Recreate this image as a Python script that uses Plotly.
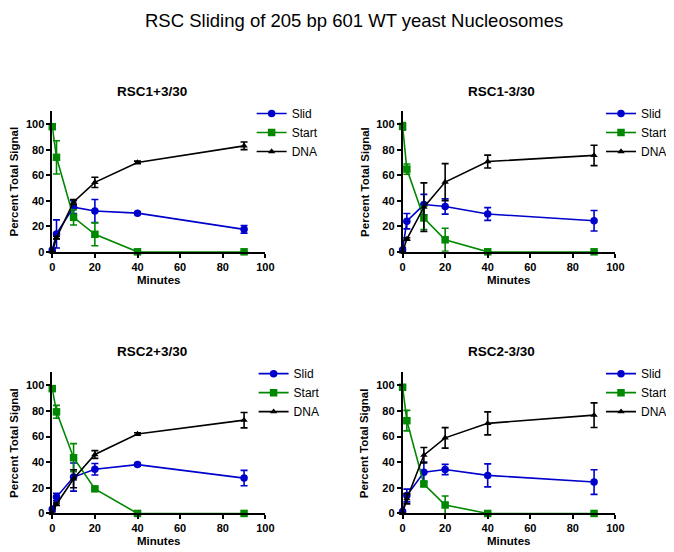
import plotly.graph_objects as go

# ---------------- data ----------------
minutes = [0, 2, 10, 20, 40, 90]
series_names = ["Slid", "Start", "DNA"]
panel_titles = ["RSC1+3/30", "RSC1-3/30", "RSC2+3/30", "RSC2-3/30"]
main_title = "RSC Sliding of 205 bp 601 WT yeast Nucleosomes"
x_ticks = [0, 20, 40, 60, 80, 100]
y_ticks = [0, 20, 40, 60, 80, 100]

# RSC1+3/30
p1_slid = [1.5, 14, 35, 32, 30.3, 17.6]
p1_slid_err = [1, 11, 5, 9, 1, 3]
p1_start = [98, 74, 27, 13.7, 0, 0]
p1_start_err = [2, 13, 6, 9, 0, 0]
p1_dna = [0, 11, 39, 54.4, 70, 83]
p1_dna_err = [0, 1, 2, 4, 1, 3]

# RSC1-3/30
p2_slid = [1.5, 24, 37, 35.5, 29.6, 24.3]
p2_slid_err = [2, 6, 8, 6, 5, 8]
p2_start = [98.2, 64.8, 26.5, 9.4, 0, 0]
p2_start_err = [3, 4, 9, 9, 0, 0]
p2_dna = [0, 10, 35, 54.6, 70.7, 75.5]
p2_dna_err = [0, 1, 19, 14.5, 5, 8]

# RSC2+3/30
p3_slid = [3.3, 12.8, 28.4, 34.5, 38.1, 27.6]
p3_slid_err = [2, 3, 11, 4.5, 1, 6]
p3_start = [97.4, 79.3, 43.5, 19.2, 0, 0]
p3_start_err = [2, 5, 11, 1, 0, 0]
p3_dna = [0, 7.2, 27, 46, 62, 72.8]
p3_dna_err = [0, 1, 7, 3, 1, 6]

# RSC2-3/30
p4_slid = [1.5, 14, 32.2, 34.3, 29.7, 24.5]
p4_slid_err = [1, 5, 8, 4, 9, 9.6]
p4_start = [98.5, 72.4, 23, 6.6, 0, 0]
p4_start_err = [1, 8, 2, 7, 0, 0]
p4_dna = [0, 11.5, 45.5, 59, 70.3, 76.7]
p4_dna_err = [0, 4, 6, 8, 9, 9.6]

panels = [
    (p1_slid, p1_slid_err, p1_start, p1_start_err, p1_dna, p1_dna_err),
    (p2_slid, p2_slid_err, p2_start, p2_start_err, p2_dna, p2_dna_err),
    (p3_slid, p3_slid_err, p3_start, p3_start_err, p3_dna, p3_dna_err),
    (p4_slid, p4_slid_err, p4_start, p4_start_err, p4_dna, p4_dna_err),
]

# ---------------- styling ----------------
W, H = 674, 552
FONT = "Arial, Liberation Sans, sans-serif"
colors = ["#0000cc", "#008800", "#000000"]
symbols = ["circle", "square", "triangle-up"]
msizes = [7.5, 7.5, 6.5]

# pixel geometry of each panel: (x_left, x_right, y_zero_px, y_top_px)
geom = [
    (42, 259, 246.5, 104.5),
    (398.7, 615.3, 246.5, 104.5),
    (42, 259, 511, 368.5),
    (398.7, 615.3, 511, 368.5),
]
# (x px, anchor, top y px)
legend_pos = [(245, "left", 92), (W, "right", 92), (247, "left", 355), (W, "right", 355)]
title_pos = [(143.4, 84), (499.7, 84), (143.4, 347), (499.7, 347)]

fig = go.Figure()
layout = dict(
    width=W, height=H,
    margin=dict(l=0, r=0, t=0, b=0),
    paper_bgcolor="white", plot_bgcolor="white",
    font=dict(family=FONT, color="black"),
    annotations=[],
)

for i, data in enumerate(panels):
    xs = "" if i == 0 else str(i + 1)
    xa, ya = "x" + xs, "y" + xs
    leg = "legend" + xs
    vals = [(data[0], data[1]), (data[2], data[3]), (data[4], data[5])]
    for k, (v, e) in enumerate(vals):
        fig.add_trace(go.Scatter(
            x=minutes, y=v, name=series_names[k],
            mode="lines+markers",
            line=dict(color=colors[k], width=1.6),
            marker=dict(symbol=symbols[k], size=msizes[k], color=colors[k]),
            error_y=dict(type="data", array=e, visible=True, color=colors[k],
                         thickness=1.6, width=3.5),
            cliponaxis=False,
            xaxis=xa, yaxis=ya, legend=leg,
        ))
    xl, xr, y0, yt = geom[i]
    axis_common = dict(
        showline=True, linecolor="black", linewidth=1.6,
        ticks="outside", ticklen=4, tickwidth=1.6, tickcolor="black",
        showgrid=False, zeroline=False,
        tickfont=dict(family=FONT, size=11, color="black", weight="bold"),
    )
    layout["xaxis" + xs] = dict(
        axis_common, domain=[xl / W, xr / W], range=[0, 100],
        tickmode="array", tickvals=x_ticks, anchor=ya,
    )
    layout["yaxis" + xs] = dict(
        axis_common, domain=[(H - y0) / H, (H - yt) / H], range=[0, 110],
        tickmode="array", tickvals=y_ticks, anchor=xa,
    )
    lx, lanchor, ly = legend_pos[i]
    layout[leg] = dict(
        x=lx / W, y=(H - ly) / H, xanchor=lanchor, yanchor="top",
        xref="paper", yref="paper",
        bgcolor="rgba(0,0,0,0)", borderwidth=0,
        font=dict(family=FONT, size=12, color="black"),
        itemwidth=30, tracegroupgap=0,
    )
    tx, ty = title_pos[i]
    layout["annotations"].append(dict(
        text="<b>%s</b>" % panel_titles[i], x=tx / W, y=(H - ty) / H,
        xref="paper", yref="paper", showarrow=False,
        xanchor="center", yanchor="middle",
        font=dict(family=FONT, size=13.5, color="black"),
    ))
    # axis titles
    layout["annotations"].append(dict(
        text="<b>Minutes</b>", x=((xl + xr) / 2) / W, y=(H - (y0 + 28)) / H,
        xref="paper", yref="paper", showarrow=False,
        xanchor="center", yanchor="middle",
        font=dict(family=FONT, size=11.5, color="black"),
    ))
    layout["annotations"].append(dict(
        text="<b>Percent Total Signal</b>", x=(xl - 39) / W,
        y=(H - (y0 + yt) / 2) / H,
        xref="paper", yref="paper", showarrow=False, textangle=-90,
        xanchor="center", yanchor="middle",
        font=dict(family=FONT, size=11.5, color="black"),
    ))

layout["annotations"].append(dict(
    text=main_title, x=349 / W, y=1.0,
    xref="paper", yref="paper", showarrow=False,
    xanchor="center", yanchor="top",
    font=dict(family=FONT, size=18.5, color="black"),
))
layout["showlegend"] = True
fig.update_layout(**layout)
fig.write_html("out.html")
